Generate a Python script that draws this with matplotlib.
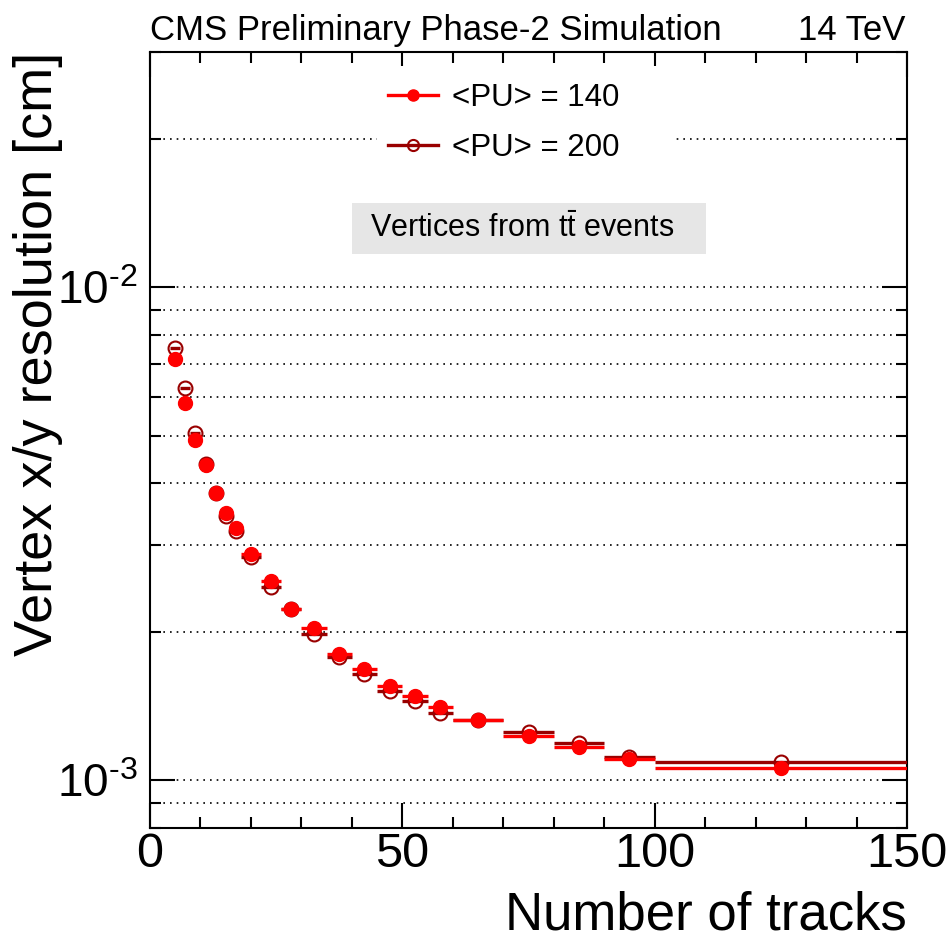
import numpy as np
import matplotlib
matplotlib.use("Agg")
import matplotlib.pyplot as plt
from matplotlib.ticker import LogLocator, NullFormatter, FuncFormatter, MultipleLocator
from matplotlib.patches import Rectangle
from matplotlib.lines import Line2D

plt.rcParams['font.family'] = ['Liberation Sans', 'DejaVu Sans']
plt.rcParams['mathtext.fontset'] = 'custom'
plt.rcParams['mathtext.rm'] = 'Liberation Sans'
plt.rcParams['mathtext.it'] = 'Liberation Sans:italic'
plt.rcParams['mathtext.bf'] = 'Liberation Sans:bold'

# Track-multiplicity bins
bin_edges = [4, 6, 8, 10, 12, 14, 16, 18, 22, 26, 30, 35, 40, 45, 50, 55, 60, 70, 80, 90, 100, 150]

# Vertex x/y resolution [cm] per bin
res_pu140 = [7.15e-3, 5.82e-3, 4.90e-3, 4.36e-3, 3.83e-3, 3.49e-3, 3.25e-3, 2.88e-3, 2.53e-3, 2.23e-3,
             2.04e-3, 1.80e-3, 1.68e-3, 1.55e-3, 1.48e-3, 1.41e-3, 1.324e-3, 1.228e-3, 1.167e-3, 1.106e-3,
             1.057e-3]
res_pu200 = [7.53e-3, 6.25e-3, 5.07e-3, 4.38e-3, 3.83e-3, 3.44e-3, 3.20e-3, 2.84e-3, 2.47e-3, 2.22e-3,
             1.98e-3, 1.78e-3, 1.64e-3, 1.52e-3, 1.45e-3, 1.37e-3, 1.324e-3, 1.25e-3, 1.19e-3, 1.112e-3,
             1.089e-3]

edges = np.array(bin_edges, dtype=float)
centers = 0.5 * (edges[1:] + edges[:-1])
half_width = 0.5 * (edges[1:] - edges[:-1])

red = '#ff0000'
dark_red = '#990000'


def pow10_label(v, pos):
    # short dash in the exponent keeps the label compact
    e = int(round(np.log10(v)))
    sign = '\u2010' if e < 0 else ''
    return r'$10^{%s%d}$' % (sign, abs(e))


fig = plt.figure(figsize=(9.48, 9.42), dpi=100)
ax = fig.add_axes([150 / 948, 1 - 828 / 942, 757 / 948, 776 / 942])

# PU 200 first so the filled PU 140 points sit on top
ax.errorbar(centers, res_pu200, xerr=half_width, fmt='o', color=dark_red, ecolor=dark_red,
            mfc='none', mec=dark_red, mew=1.5, ms=10, elinewidth=2.4, capsize=0, zorder=4)
ax.errorbar(centers, res_pu140, xerr=half_width, fmt='o', color=red, ecolor=red,
            mfc=red, mec=red, ms=10, elinewidth=2.4, capsize=0, zorder=5)

ax.set_yscale('log')
ax.set_xlim(0, 150)
ax.set_ylim(8e-4, 3e-2)

ax.xaxis.set_major_locator(MultipleLocator(50))
ax.xaxis.set_minor_locator(MultipleLocator(10))
ax.yaxis.set_major_locator(LogLocator(base=10))
ax.yaxis.set_minor_locator(LogLocator(base=10, subs=np.arange(2, 10)))
ax.yaxis.set_major_formatter(FuncFormatter(pow10_label))
ax.yaxis.set_minor_formatter(NullFormatter())

ax.tick_params(which='both', direction='in', top=True, right=True, width=1.5)
ax.tick_params(which='major', length=18)
ax.tick_params(which='minor', length=8)
ax.tick_params(axis='x', pad=3, labelsize=35)
ax.tick_params(axis='y', pad=9, labelsize=33)
for s in ax.spines.values():
    s.set_linewidth(1.5)

ax.yaxis.grid(True, which='both', linestyle=(0, (1, 3)), color='black', linewidth=1.2, zorder=0)
ax.set_axisbelow(True)

# white backing behind the legend, grey box for the sample label
ax.add_patch(Rectangle((0.30, 0.842), 0.391, 0.14, transform=ax.transAxes,
                       facecolor='white', edgecolor='none', zorder=2))
ax.add_patch(Rectangle((0.267, 0.7397), 0.4675, 0.0657, transform=ax.transAxes,
                       facecolor='#e6e6e6', edgecolor='none', zorder=2))
ax.text((370 - 150) / 757, (828 - 229) / 776, r'Vertices from $\mathrm{t}\bar{\mathrm{t}}$ events',
        transform=ax.transAxes, ha='left', va='center', fontsize=22, zorder=3)

handles = [
    Line2D([], [], color=red, lw=2.4, marker='o', ms=8, mfc=red, mec=red),
    Line2D([], [], color=dark_red, lw=2.4, marker='o', ms=8, mfc='none', mec=dark_red, mew=1.5),
]
leg = ax.legend(handles, ['<PU> = 140', '<PU> = 200'], loc='upper left',
                bbox_to_anchor=(388 / 948, 1 - 83 / 942), bbox_transform=fig.transFigure,
                frameon=False, fontsize=22.5, handlelength=1.6, handletextpad=0.45,
                labelspacing=0.63, borderpad=0, borderaxespad=0)
leg.set_zorder(6)

fig.text(150 / 948, 1 - 40 / 942, 'CMS Preliminary Phase-2 Simulation', fontsize=25,
         ha='left', va='baseline')
fig.text(905 / 948, 1 - 40 / 942, '14 TeV', fontsize=25, ha='right', va='baseline')

fig.text(907 / 948, 1 - 930 / 942, 'Number of tracks', fontsize=38, ha='right', va='baseline')
fig.text(38 / 948, 1 - 52 / 942, 'Vertex x/y resolution [cm]', fontsize=39, rotation=90,
         ha='center', va='top')

fig.savefig('out.png', dpi=100)
